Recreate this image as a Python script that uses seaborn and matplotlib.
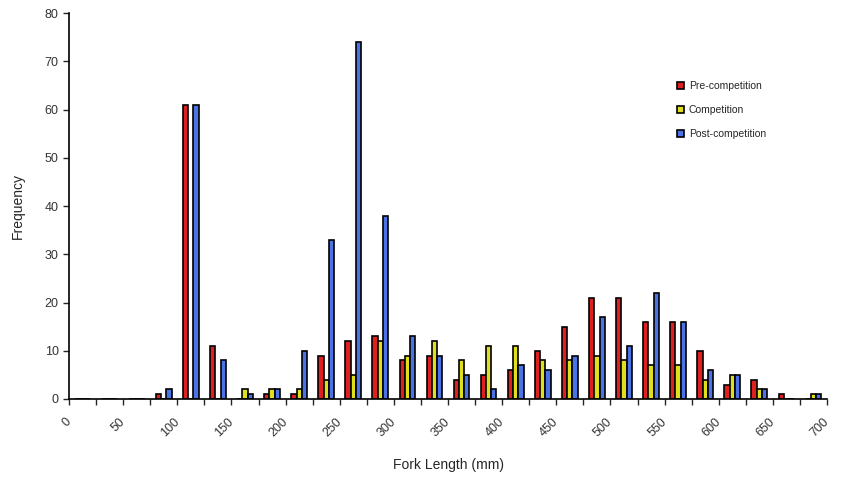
import numpy as np
import pandas as pd
import matplotlib
matplotlib.use('Agg')
import matplotlib.pyplot as plt
import seaborn as sns

# Fork length classes (mm), 25 mm bins from 0 to 700
bin_starts = list(range(0, 700, 25))
edge_labels = [str(v) for v in range(0, 701, 50)]

pre_comp = [0, 0, 0, 1, 61, 11, 0, 1, 1, 9, 12, 13, 8, 9, 4, 5, 6, 10, 15, 21, 21, 16, 16, 10, 3, 4, 1, 0]
comp = [0, 0, 0, 0, 0, 0, 2, 2, 2, 4, 5, 12, 9, 12, 8, 11, 11, 8, 8, 9, 8, 7, 7, 4, 5, 2, 0, 1]
post_comp = [0, 0, 0, 2, 61, 8, 1, 2, 10, 33, 74, 38, 13, 9, 5, 2, 7, 6, 9, 17, 11, 22, 16, 6, 5, 2, 0, 1]

series_names = ['Pre-competition', 'Competition', 'Post-competition']
colors = ['#FF0000', '#FFFF00', '#3366FF']

df = pd.DataFrame({
    'length': [str(v) for v in bin_starts] * 3,
    'freq': pre_comp + comp + post_comp,
    'period': np.repeat(series_names, len(bin_starts)),
})

sns.set_style('white')
plt.rcParams['font.family'] = ['Liberation Sans', 'DejaVu Sans']

fig = plt.figure(figsize=(8.45, 4.87), dpi=100)
ax = fig.add_axes([0.0817, 0.1807, 0.897, 0.7926])

sns.barplot(data=df, x='length', y='freq', hue='period', hue_order=series_names,
            palette=colors, width=0.58, edgecolor='black', linewidth=1.2,
            errorbar=None, ax=ax)

n = len(bin_starts)
ax.set_xlim(-0.5, n - 0.5)
ax.set_ylim(0, 80)
ax.set_yticks(range(0, 81, 10))
ax.tick_params(axis='y', direction='out', length=4, width=1, labelsize=9,
               left=True, labelcolor='#333333')

# tick marks on bin edges, labels every 50 mm
edges = np.arange(-0.5, n, 1)
ax.set_xticks(edges)
ax.set_xticklabels([edge_labels[i // 2] if i % 2 == 0 else '' for i in range(len(edges))],
                   rotation=45, ha='right', va='center', rotation_mode='anchor',
                   fontsize=9, color='#333333')
ax.tick_params(axis='x', direction='out', length=4, width=1, bottom=True, pad=11)

sns.despine(ax=ax)
for s in ['left', 'bottom']:
    ax.spines[s].set_color('black')
    ax.spines[s].set_linewidth(1.2)

ax.set_xlabel('Fork Length (mm)', fontsize=10, labelpad=14)
ax.set_ylabel('Frequency', fontsize=10, labelpad=14)

leg = ax.legend(loc='upper left', bbox_to_anchor=(0.79, 0.848), frameon=False,
                fontsize=7.5, handlelength=0.7, handleheight=0.7, handletextpad=0.4,
                labelspacing=1.35)

fig.savefig('out.png', dpi=100)
